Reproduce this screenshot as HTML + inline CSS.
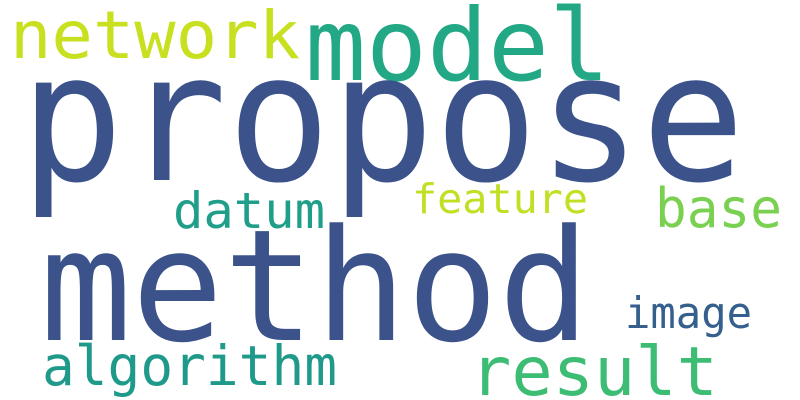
<!DOCTYPE html>
<html><head><meta charset="utf-8"><style>
html,body{margin:0;padding:0;background:#fff;}
svg{display:block;}
text{font-family:"DejaVu Sans Mono","Liberation Mono",monospace;}
</style></head><body>
<svg width="800" height="400" viewBox="0 0 800 400">
<rect width="800" height="400" fill="#fff"/>
<text x="10" y="58" font-size="66" fill="#c8e020" textLength="290" lengthAdjust="spacingAndGlyphs">network</text>
<text x="305" y="80" font-size="100" fill="#22a884" textLength="305" lengthAdjust="spacingAndGlyphs">model</text>
<text x="20" y="180" font-size="178" fill="#3b528b" textLength="725" lengthAdjust="spacingAndGlyphs">propose</text>
<text x="173" y="228" font-size="50" fill="#1f9e89" textLength="152" lengthAdjust="spacingAndGlyphs">datum</text>
<text x="412" y="213" font-size="41" fill="#c2df23" textLength="176" lengthAdjust="spacingAndGlyphs">feature</text>
<text x="655" y="227" font-size="54" fill="#7ad151" textLength="127" lengthAdjust="spacingAndGlyphs">base</text>
<text x="40" y="340" font-size="155" fill="#3b528b" textLength="550" lengthAdjust="spacingAndGlyphs">method</text>
<text x="625" y="328" font-size="44" fill="#355f8d" textLength="127" lengthAdjust="spacingAndGlyphs">image</text>
<text x="42" y="385" font-size="55" fill="#1f9a8a" textLength="295" lengthAdjust="spacingAndGlyphs">algorithm</text>
<text x="470" y="395" font-size="68" fill="#3dbc74" textLength="248" lengthAdjust="spacingAndGlyphs">result</text>
</svg>
</body></html>
